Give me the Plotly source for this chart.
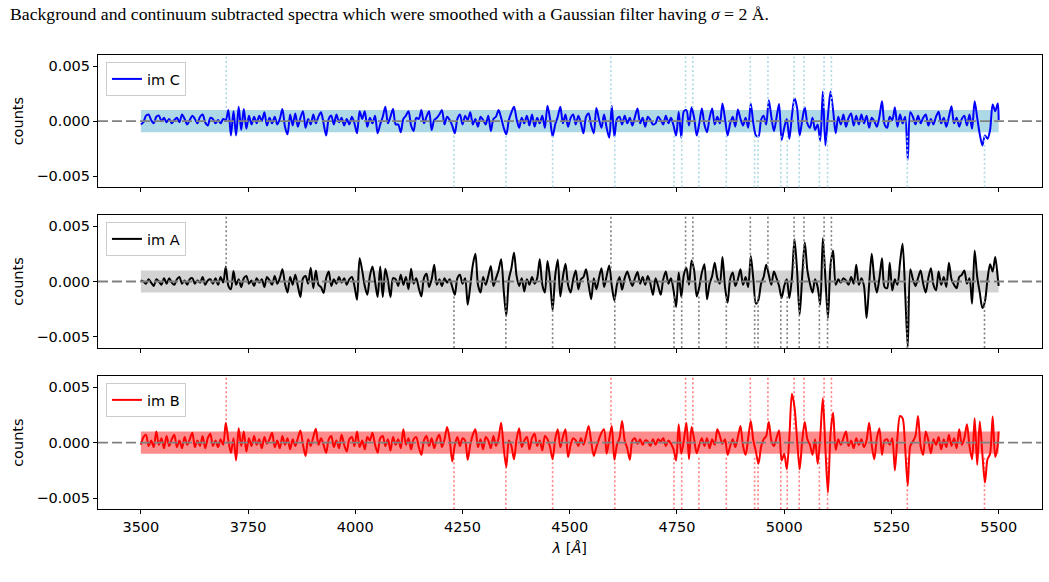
import plotly.graph_objects as go

wavelength = list(range(3500, 5500, 6)) + [5500]

# Smoothed, background/continuum-subtracted spectra, in units of 1e-3 counts
counts_imC = [
    -0.3, -0.1, 0.5, 0.6, 0.1, -0.2, 0.4, 0.5, 0.0, 0.3,
    -0.1, 0.2, -0.2, 0.1, 0.3, -0.1, 0.6, 0.2, -0.3, 0.1,
    0.5, 0.2, -0.2, 0.4, 0.6, -0.1, -0.4, 0.3, 0.2, -0.2,
    0.1, -0.2, 0.2, 0.1, 1.0, -1.3, 0.9, -1.3, 1.3, -0.8,
    1.1, -0.7, 0.5, -0.3, 0.4, -0.2, 0.5, 0.0, 0.8, -0.4,
    0.3, -0.2, 0.4, -0.3, 0.2, 1.1, -0.5, -1.2, 0.6, -0.4,
    0.7, -0.5, 0.3, 0.9, -0.6, 0.2, -0.3, 0.6, -0.2, 0.4,
    0.8, -0.2, -1.3, 0.2, 0.5, -0.3, 0.6, -0.1, 0.3, -0.4,
    0.2, -0.3, 0.4, -0.2, -1.1, 0.9, 0.2, 0.9, -0.5, 0.3,
    -0.2, 0.5, -1.1, -0.3, 0.4, 1.3, -0.2, 0.4, 1.1, -0.3,
    -0.3, -1.0, 0.2, 0.5, 0.9, -0.4, -0.9, 0.3, 0.2, 1.0,
    -0.2, 0.4, 0.9, -0.8, 0.1, 0.3, 0.6, 1.0, -0.3, 0.4,
    0.1, -0.4, -1.1, 0.2, 0.6, -0.3, 0.5, 0.1, 0.8, -0.3,
    0.2, -0.5, 0.4, 0.1, -0.3, 0.5, -0.9, 0.2, 0.4, 1.0,
    0.3, -0.6, -1.2, 0.1, 0.8, 1.3, 0.2, -0.6, 0.3, -0.2,
    0.5, -0.4, 0.6, -0.5, 0.3, -0.2, 0.5, -0.6, 1.4, 0.2,
    -1.4, -0.3, 0.4, 1.3, -0.2, 0.6, -0.5, 0.3, 0.6, -0.3,
    0.5, -0.2, -1.1, 0.4, 0.7, -0.4, -1.1, 1.2, 0.2, -0.6,
    0.6, -0.6, -1.5, 1.4, -1.4, 0.2, 0.4, -0.3, 0.5, -0.2,
    0.3, -0.4, 0.4, 1.15, -0.2, 0.3, -0.5, 0.4, 0.1, -0.3,
    -0.2, 0.4, 0.1, -0.3, 0.5, -0.2, 0.3, -0.4, -1.3, 0.85,
    -1.5, 0.9, 1.0, -0.4, 1.25, 0.3, -1.3, -0.2, 1.15, -0.3,
    -1.0, 0.3, 1.15, -0.3, 0.4, -0.2, 1.6, 0.2, -1.3, -0.2,
    0.4, -0.5, 1.05, 0.2, -0.4, 0.3, -0.6, 1.6, -0.2, -1.3,
    -1.4, 0.1, 0.5, -0.3, 1.9, 0.4, -0.9, 0.3, 1.55, -1.7,
    -0.6, 0.2, -1.6, 0.5, 2.1, 1.2, -1.3, 0.1, 1.25, -0.2,
    -0.6, 0.3, -0.8, -0.3, -1.8, 2.7, -2.2, 0.5, 2.7, 1.0,
    -1.1, 0.4, -0.3, 0.6, -0.5, 0.3, 0.7, -0.4, 0.5, -0.3,
    0.6, -0.2, 0.5, -0.6, 0.3, 0.0, -0.5, 0.4, 1.8, -0.3,
    -0.6, 0.4, 0.1, 1.25, -0.5, 0.6, -0.2, 0.4, -3.5, 0.8,
    0.4, -0.3, 0.5, -0.2, 0.3, 0.6, -0.4, 0.2, -0.3, 0.4,
    0.85, -0.2, 0.3, -0.5, 0.4, 1.35, -0.2, 0.3, -0.5, 0.2,
    0.5, -0.4, 0.6, -0.7, 1.8, 0.3, -1.2, -2.2, -1.3, -1.6,
    -0.8, 1.5, 0.9, 1.6, 0.1,
]

counts_imA = [
    0.1, 0.0, -0.2, 0.2, -0.1, -0.4, 0.2, 0.0, -0.3, 0.3,
    -0.2, 0.3, -0.1, -0.3, 0.2, 0.4, -0.2, 0.1, -0.3, 0.2,
    0.3, -0.2, 0.1, -0.1, 0.4, -0.3, 0.1, 0.2, -0.2, 0.3,
    -0.3, 0.4, -0.1, 1.35, -0.4, -0.7, 0.95, -0.3, 0.2, -0.5,
    0.3, 0.5, -0.2, 0.1, -0.4, 0.3, -0.1, 0.2, -0.5, 0.4,
    0.1, -0.3, 0.5, -0.2, 0.3, 1.1, -0.2, -1.0, 0.4, -0.3,
    0.6, -0.4, -1.4, 0.3, 0.5, -0.2, 1.25, -0.6, 1.0, -0.3,
    -0.5, -1.05, 0.3, 0.9, -0.4, 0.2, -0.2, 0.4, -0.1, 0.3,
    -0.3, 0.2, 0.4, -0.4, -1.65, 2.1, 1.0, -0.4, -1.2, 0.5,
    1.35, 0.0, -1.4, 1.35, -1.4, 1.15, 0.1, -1.4, 0.3, 0.2,
    -0.4, 0.6, -0.3, 0.4, -0.7, 1.15, -0.2, 0.3, -0.6, -1.35,
    0.3, 0.7, -0.5, 0.2, 1.5, -0.3, 0.2, -0.4, 0.3, -0.1,
    0.2, -0.5, -1.2, 0.3, 0.6, -0.2, 0.3, -2.1, -0.4, 1.5,
    2.5, -0.3, -1.0, 0.4, -0.3, 0.5, 1.4, -0.4, 0.3, 1.0,
    2.0, -0.8, -3.1, 0.2, 1.2, 2.6, 0.5, -0.4, 0.3, -0.9,
    0.2, -0.3, 0.4, -0.2, 0.3, 2.0, -0.3, -1.0, 1.85, 0.2,
    -2.6, 0.5, 1.95, -1.35, 0.4, 1.6, -0.3, -1.0, 0.2, 1.0,
    -0.7, 0.2, 0.4, 1.1, -0.3, -1.6, 0.3, -0.7, 0.3, 1.2,
    -0.5, 0.5, 1.45, -0.4, -1.7, -0.3, 0.4, -0.75, 0.3, 0.9,
    0.2, -0.4, 0.3, 0.85, -0.2, 0.4, -0.3, 0.5, -0.2, -1.2,
    0.3, -0.4, -1.2, 0.2, 0.9, -0.2, 0.3, -0.8, -2.3, 0.8,
    -1.4, 0.6, 1.25, -0.3, 1.9, 1.0, -1.35, -0.5, 0.8, 1.55,
    -1.6, -0.2, 0.5, 1.7, 0.3, -0.2, 2.2, -0.5, -1.9, 0.2,
    0.8, -0.4, 0.2, 1.1, -0.3, 0.4, -0.5, 2.3, 0.2, -2.0,
    -1.65, -0.2, 0.4, 1.5, 0.6, -0.3, 0.9, 0.3, -0.4, -1.5,
    -0.4, 0.2, -1.5, 0.4, 3.8, 1.0, -3.0, 0.5, 3.55, 1.0,
    -0.2, -1.0, 0.2, -0.5, -2.1, 3.9, 0.3, -3.3, 1.5, 2.8,
    -0.3, 0.2, -0.1, 0.3, 0.1, -0.3, 0.4, -0.2, 1.5, -0.3,
    0.3, -0.4, -3.3, -0.3, 2.5, 0.2, -1.0, 0.3, 2.1, -0.5,
    -0.6, 1.7, -0.8, 0.2, -0.3, 1.7, 3.4, -1.0, -5.9, 1.1,
    0.2, -0.4, 0.3, 1.0, -0.2, -1.0, 0.3, 1.2, -0.3, -0.8,
    0.9, -0.3, 0.4, -0.5, 1.7, 0.2, -0.3, -0.6, 0.4, 0.6,
    1.0, -0.2, 0.3, -2.0, 2.8, 0.4, -1.0, -2.4, -1.8, 0.2,
    1.55, 0.9, 2.2, 0.3, -0.4,
]

counts_imB = [
    -0.2, 0.5, 0.7, -0.3, 0.2, -0.4, 1.0, -0.2, 0.4, -0.5,
    0.6, -0.3, 0.3, 0.7, -0.4, 0.2, -0.5, 0.5, -0.2, 0.3,
    0.9, -0.4, 0.2, -0.3, 0.6, -0.5, 0.4, 0.8, -0.3, 0.2,
    -0.4, 0.3, -0.2, 1.8, 0.2, -0.9, 0.4, -1.6, 1.3, -0.3,
    1.0, -0.8, 0.4, -0.3, 0.6, -0.2, 0.3, -0.5, 0.5, -0.1,
    0.3, 0.9, -0.4, 0.2, -0.5, 0.6, -0.2, 0.4, -0.6, 0.3,
    -0.3, 0.4, 1.1, -0.2, -1.2, 0.3, -0.3, 0.5, 1.25, -0.2,
    0.4, -0.2, -0.9, 0.3, 0.6, -0.4, 0.2, -0.5, 0.7, -0.2,
    -0.8, 0.3, 0.5, -0.3, 1.0, -0.4, 0.2, -0.6, 0.5, 0.2,
    0.9, -0.2, -0.9, 0.4, 0.6, -0.3, 0.3, -0.7, 0.5, -0.2,
    0.3, -0.5, 1.2, -0.2, 0.4, -0.6, 0.3, 0.5, -0.4, -1.1,
    0.2, 0.6, -0.3, 0.4, -0.5, 0.3, 0.7, -0.4, 0.3, 1.4,
    0.3, -1.7, -0.2, 0.5, -0.3, 0.4, 0.2, -1.55, -0.2, 0.7,
    1.2, -0.4, 0.3, -0.6, 0.5, 0.2, -0.5, 0.6, -0.3, 0.4,
    1.8, -0.5, -2.2, 0.2, -0.3, -1.5, 0.3, 1.3, -0.4, 0.2,
    0.5, -0.6, 0.4, 0.8, -0.3, 0.2, -0.7, 0.6, 0.3, -0.4,
    -1.5, 0.3, 1.2, -0.4, 0.5, 1.2, -1.3, -0.2, 0.4, 0.2,
    -0.3, 0.4, -0.2, 0.6, 1.5, 0.1, -1.2, -0.4, 0.3, 0.9,
    1.2, -1.0, 0.3, 1.5, -1.55, -0.2, 0.4, 1.95, 0.2, -0.5,
    -1.55, 0.2, 0.4, -0.1, 0.3, -0.2, 0.2, 0.1, -0.3, 0.3,
    -0.2, 0.3, 0.1, 0.4, -0.3, 0.2, -0.1, -0.6, -1.6, 1.65,
    -1.0, 0.2, 1.8, -1.5, 1.4, 0.3, -0.95, -0.2, 0.4, -0.3,
    0.4, -0.5, 0.3, -0.2, 1.2, 0.6, -0.1, 0.3, -1.1, -0.3,
    0.3, -0.4, 0.5, 1.5, -0.3, -1.1, 0.4, 1.95, 0.2, -0.8,
    -1.9, -0.4, 0.3, 0.6, 1.85, 0.2, -0.3, 0.4, 1.1, -1.6,
    -1.0, -2.4, 0.5, 4.4, 3.2, 0.3, -2.4, 0.2, 1.85, 0.3,
    -0.2, -1.1, 0.3, -1.9, 0.5, 4.0, -0.5, -4.5, 0.8, 2.7,
    -0.65, 0.3, -0.2, 0.4, 1.0, -0.3, 0.2, -0.5, 0.4, -0.2,
    0.3, -0.4, 0.2, 1.8, -0.2, -1.5, 0.4, 1.3, -1.1, 0.2,
    0.3, -0.2, 0.4, -2.5, 0.5, 2.4, 2.2, -0.5, -3.85, -0.3,
    0.1, 0.6, 2.4, -0.3, -1.1, 1.0, 0.2, -0.95, 0.3, -0.2,
    0.5, -0.6, 0.3, -0.4, 0.7, -0.3, 0.4, -0.5, 1.2, -0.2,
    0.4, 1.65, -0.3, -1.5, 2.2, -2.0, 1.9, -1.0, -3.6, -1.5,
    -1.0, 2.35, -1.3, -0.2, 1.0,
]

UNIT = 1e-3  # arrays above are in milli-counts

# Line positions (Angstrom): emission lines marked above, absorption below
emission_lines = [3699, 4596, 4770, 4787, 4921, 4962, 5023, 5046, 5093, 5110]
absorption_lines = [4230, 4351, 4460, 4605, 4743, 4761, 4801, 4865, 4931,
                    4939, 4992, 5007, 5035, 5082, 5101, 5287, 5467]

noise_band = 0.001          # +/- counts shaded band
band_range = [3500, 5500]

x_tick_vals = [3500, 3750, 4000, 4250, 4500, 4750, 5000, 5250, 5500]
y_tick_vals = [-0.005, 0.0, 0.005]
y_tick_text = ["\u22120.005", "0.000", "0.005"]

panels = [
    dict(name="im C", data=counts_imC, color="#0000ff", band="#add8e6",
         vcolor="#add8e6", ax="", dom=[0.6782, 0.9055], leg="legend"),
    dict(name="im A", data=counts_imA, color="#000000", band="#d3d3d3",
         vcolor="#808080", ax="2", dom=[0.4021, 0.6306], leg="legend2"),
    dict(name="im B", data=counts_imB, color="#ff0000", band="rgba(255,0,0,0.45)",
         vcolor="rgba(255,0,0,0.5)", ax="3", dom=[0.1249, 0.3540], leg="legend3"),
]

FONT = "DejaVu Sans"
FS = 14.5

fig = go.Figure()
shapes = []
layout = dict(
    width=1049, height=582,
    margin=dict(l=0, r=0, t=0, b=0),
    paper_bgcolor="white", plot_bgcolor="white",
    font=dict(family=FONT, size=FS, color="black"),
    showlegend=True,
)

for p in panels:
    xa = "x" + p["ax"]
    ya = "y" + p["ax"]
    fig.add_trace(go.Scatter(
        x=wavelength, y=[v * UNIT for v in p["data"]],
        mode="lines", name=p["name"],
        line=dict(color=p["color"], width=2, shape="spline", smoothing=0.8),
        xaxis=xa, yaxis=ya, legend=p["leg"],
    ))
    # noise band
    shapes.append(dict(type="rect", xref=xa, yref=ya,
                       x0=band_range[0], x1=band_range[1],
                       y0=-noise_band, y1=noise_band,
                       fillcolor=p["band"], line=dict(width=0), layer="below"))
    # line markers
    for wl in emission_lines:
        shapes.append(dict(type="line", xref=xa, yref=ya + " domain",
                           x0=wl, x1=wl, y0=0.6, y1=1.0,
                           line=dict(color=p["vcolor"], width=1.6, dash="2px,2.5px"),
                           layer="above"))
    for wl in absorption_lines:
        shapes.append(dict(type="line", xref=xa, yref=ya + " domain",
                           x0=wl, x1=wl, y0=0.0, y1=0.4,
                           line=dict(color=p["vcolor"], width=1.6, dash="2px,2.5px"),
                           layer="above"))
    # zero line
    shapes.append(dict(type="line", xref=xa + " domain", yref=ya,
                       x0=0, x1=1, y0=0, y1=0,
                       line=dict(color="#808080", width=1.8, dash="10px,4px"),
                       layer="above"))

    xkey = "xaxis" + p["ax"]
    ykey = "yaxis" + p["ax"]
    layout[xkey] = dict(
        domain=[0.0934, 0.9929], range=[3400, 5600], anchor=ya,
        tickvals=x_tick_vals, ticks="outside", ticklen=4, tickwidth=1,
        tickcolor="black", showline=True, mirror=True, linecolor="black",
        linewidth=1, showgrid=False, zeroline=False,
        showticklabels=(p["ax"] == "3"),
        tickfont=dict(family=FONT, size=FS),
    )
    if p["ax"] != "":
        layout[xkey]["matches"] = "x"
    layout[ykey] = dict(
        domain=p["dom"], range=[-0.006, 0.006], anchor=xa,
        tickvals=y_tick_vals, ticktext=y_tick_text,
        ticks="outside", ticklen=4, tickwidth=1, tickcolor="black",
        showline=True, mirror=True, linecolor="black", linewidth=1,
        showgrid=False, zeroline=False,
        tickfont=dict(family=FONT, size=FS),
        title=dict(text="counts", font=dict(family=FONT, size=FS), standoff=9),
    )
    layout[p["leg"]] = dict(
        x=0.101, y=p["dom"][1] - 0.012, xanchor="left", yanchor="top",
        bgcolor="rgba(255,255,255,0.8)", bordercolor="#cccccc", borderwidth=1,
        font=dict(family=FONT, size=FS), itemwidth=30,
    )

layout["xaxis3"]["title"] = dict(text="<i>\u03bb</i> [<i>\u00c5</i>]",
                                 font=dict(family=FONT, size=FS), standoff=9)

layout["shapes"] = shapes
layout["annotations"] = [dict(
    text="Background and continuum subtracted spectra which were smoothed with a "
         "Gaussian filter having <i>\u03c3</i> = 2 \u00c5.",
    xref="paper", yref="paper", x=8 / 1049, y=1 - 14 / 582,
    xanchor="left", yanchor="middle", showarrow=False,
    font=dict(family="Liberation Serif, serif", size=17.7, color="black"),
)]

fig.update_layout(**layout)
fig.write_html("out.html")
